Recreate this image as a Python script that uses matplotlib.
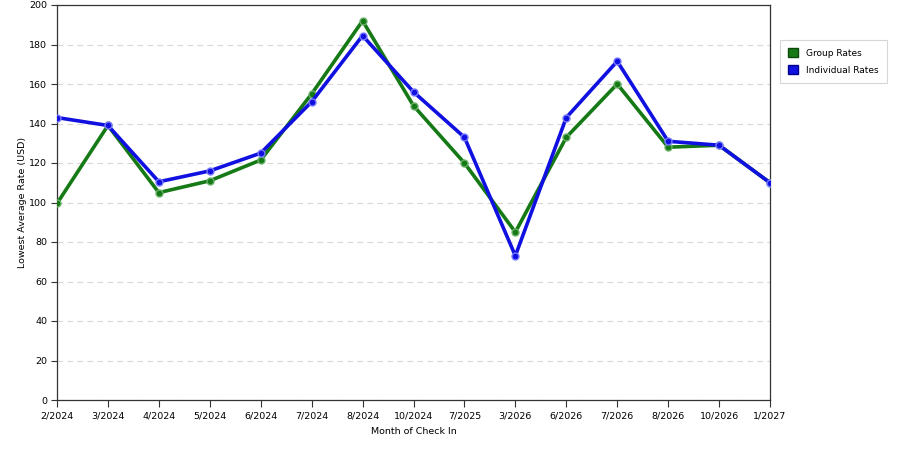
import matplotlib.pyplot as plt
from matplotlib.patches import Patch

# Chart data
months = ["2/2024", "3/2024", "4/2024", "5/2024", "6/2024", "7/2024", "8/2024", "10/2024",
          "7/2025", "3/2026", "6/2026", "7/2026", "8/2026", "10/2026", "1/2027"]
group_rates = [99.5, 139, 105, 111, 121.5, 155, 192, 149, 120, 85, 133, 160, 128, 129, 110]
individual_rates = [143, 139, 110.5, 116, 125, 151, 184.5, 156, 133, 73, 143, 171.5, 131, 129, 110]
y_ticks = list(range(0, 201, 20))

green = "#157a15"
blue = "#1010e0"

fig = plt.figure(figsize=(9, 4.5), dpi=100)
ax = fig.add_axes([57 / 900, 1 - 400 / 450, (770 - 57) / 900, 395 / 450])

x = list(range(len(months)))
ax.plot(x, group_rates, color=green, linewidth=2.6, marker="o", markersize=5,
        markerfacecolor=green, markeredgecolor="#6ab06a", markeredgewidth=1, zorder=3)
ax.plot(x, individual_rates, color=blue, linewidth=2.6, marker="o", markersize=5,
        markerfacecolor=blue, markeredgecolor="#7a7aff", markeredgewidth=1, zorder=4)

ax.set_xlim(0, len(months) - 1)
ax.set_ylim(0, 200)
ax.set_xticks(x)
ax.set_xticklabels(months)
ax.set_yticks(y_ticks)
ax.tick_params(axis="both", labelsize=6.8, color="#333333", direction="out", length=5, pad=3)
ax.tick_params(axis="y", length=4)
ax.yaxis.grid(True, linestyle=(0, (5, 4)), color="#d8d8d8", linewidth=0.8)
ax.set_axisbelow(True)
for side in ["left", "bottom", "top", "right"]:
    ax.spines[side].set_color("#333333")
    ax.spines[side].set_linewidth(0.9)

ax.set_xlabel("Month of Check In", fontsize=6.8, labelpad=5)
ax.set_ylabel("Lowest Average Rate (USD)", fontsize=6.8, labelpad=2)

handles = [Patch(facecolor=green, edgecolor="#0b4a0b", label="Group Rates"),
           Patch(facecolor=blue, edgecolor="#00008a", label="Individual Rates")]
leg = fig.legend(handles=handles, loc="upper left", bbox_to_anchor=(780 / 900, 1 - 40 / 450),
                 borderaxespad=0, fontsize=6.5, frameon=True, fancybox=False, edgecolor="#cccccc",
                 handlelength=1.1, handleheight=1.2, handletextpad=0.9,
                 borderpad=0.9, labelspacing=0.8)
leg.get_frame().set_linewidth(0.8)

fig.savefig("out.png", dpi=100)
